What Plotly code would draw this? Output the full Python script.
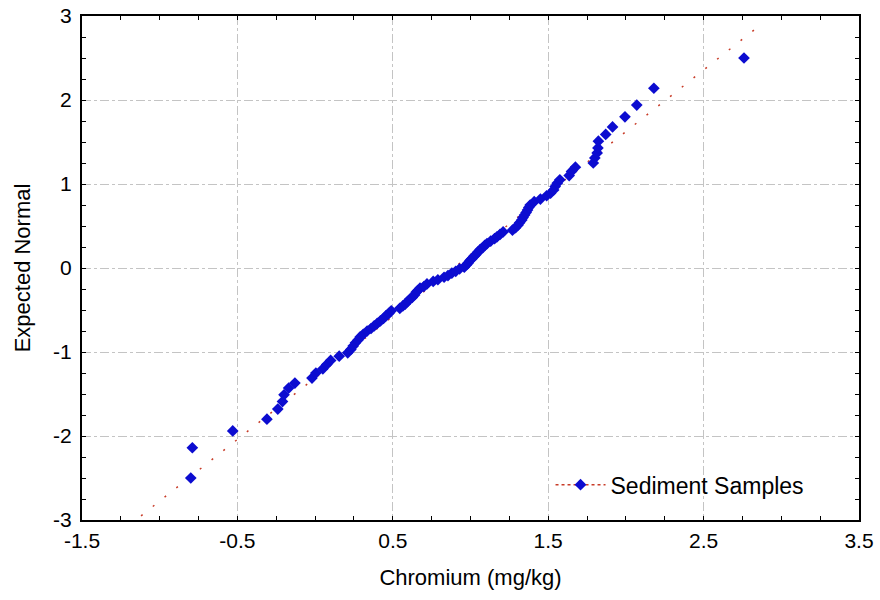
import plotly.graph_objects as go

# Chromium (mg/kg) sample values, sorted
chromium = [
    -0.80, -0.79, -0.53, -0.31, -0.24, -0.21, -0.20, -0.17, -0.13, -0.02,
    0.005, 0.05, 0.075, 0.10, 0.155, 0.21, 0.23, 0.245, 0.26, 0.275,
    0.29, 0.31, 0.335, 0.36, 0.38, 0.40, 0.42, 0.44, 0.455, 0.475,
    0.49, 0.545, 0.565, 0.58, 0.595, 0.61, 0.625, 0.64, 0.65, 0.66,
    0.675, 0.70, 0.72, 0.76, 0.79, 0.83, 0.855, 0.88, 0.905, 0.93,
    0.96, 0.975, 0.985, 0.997, 1.009, 1.022, 1.035, 1.048, 1.062, 1.078,
    1.092, 1.106, 1.13, 1.155, 1.17, 1.19, 1.21, 1.27, 1.29, 1.305,
    1.316, 1.33, 1.338, 1.348, 1.358, 1.367, 1.375, 1.384, 1.41, 1.45,
    1.49, 1.515, 1.535, 1.545, 1.558, 1.575, 1.635, 1.65, 1.675, 1.79,
    1.80, 1.815, 1.82, 1.823, 1.87, 1.914, 1.994, 2.07, 2.18, 2.76,
]

# Expected normal values
expected_normal = [
    -2.50, -2.14, -1.94, -1.80, -1.68, -1.59, -1.51, -1.43, -1.37, -1.31,
    -1.25, -1.20, -1.15, -1.10, -1.05, -1.01, -0.97, -0.93, -0.89, -0.86,
    -0.82, -0.79, -0.75, -0.72, -0.69, -0.66, -0.63, -0.60, -0.57, -0.54,
    -0.51, -0.48, -0.45, -0.43, -0.40, -0.37, -0.35, -0.32, -0.29, -0.27,
    -0.24, -0.22, -0.19, -0.16, -0.14, -0.11, -0.09, -0.06, -0.04, -0.01,
    0.01, 0.04, 0.06, 0.09, 0.11, 0.14, 0.16, 0.19, 0.22, 0.24,
    0.27, 0.29, 0.32, 0.35, 0.37, 0.40, 0.43, 0.45, 0.48, 0.51,
    0.54, 0.57, 0.60, 0.63, 0.66, 0.69, 0.72, 0.75, 0.79, 0.82,
    0.86, 0.89, 0.93, 0.97, 1.01, 1.05, 1.10, 1.15, 1.20, 1.25,
    1.31, 1.37, 1.43, 1.51, 1.59, 1.68, 1.80, 1.94, 2.14, 2.50,
]

# Reference (normal) line end points
ref_x = [-1.12, 2.87]
ref_y = [-2.95, 2.90]

x_tickvals = [-1.5, -0.5, 0.5, 1.5, 2.5, 3.5]
x_ticktext = ["-1.5", "-0.5", "0.5", "1.5", "2.5", "3.5"]
y_tickvals = [-3, -2, -1, 0, 1, 2, 3]
y_ticktext = ["-3", "-2", "-1", "0", "1", "2", "3"]

series_name = "Sediment Samples"
x_title = "Chromium (mg/kg)"
y_title = "Expected Normal"

BLUE = "#0c0cd0"
RED = "#c83c28"
FONT = "Arial, Liberation Sans, sans-serif"

fig = go.Figure()
fig.add_trace(go.Scatter(
    x=ref_x, y=ref_y, mode="lines",
    line=dict(color=RED, width=1.5, dash="2px,13px"),
    showlegend=False, hoverinfo="skip",
))
fig.add_trace(go.Scatter(
    x=chromium, y=expected_normal, mode="markers",
    marker=dict(symbol="diamond", size=9, color=BLUE, line=dict(width=0)),
    showlegend=False, name=series_name,
))
# legend entry (line + marker)
fig.add_trace(go.Scatter(
    x=[None], y=[None], mode="lines+markers", name=series_name,
    line=dict(color=RED, width=1.5, dash="3px,3px"),
    marker=dict(symbol="diamond", size=9, color=BLUE),
))

axis_common = dict(
    showline=True, linecolor="black", linewidth=2, mirror="allticks",
    ticks="inside", ticklen=4, tickcolor="black", tickwidth=1,
    showgrid=True, gridcolor="#c4c4c4", gridwidth=1, griddash="dashdot",
    zeroline=False, tickmode="array", automargin=False,
    tickfont=dict(family=FONT, size=21, color="black"),
)

fig.update_xaxes(
    range=[-1.5, 3.5], tickvals=x_tickvals, ticktext=x_ticktext,
    minor=dict(tick0=-1.5, dtick=0.25, ticks="inside", ticklen=4,
               tickcolor="black", showgrid=False),
    ticklabelstandoff=1,
    title=dict(text=x_title, font=dict(family=FONT, size=22, color="black"), standoff=18),
    **axis_common,
)
fig.update_yaxes(
    range=[-3, 3], tickvals=y_tickvals, ticktext=y_ticktext,
    minor=dict(tick0=-3, dtick=0.25, ticks="inside", ticklen=4,
               tickcolor="black", showgrid=False),
    ticklabelstandoff=4,
    title=dict(text=y_title, font=dict(family=FONT, size=22, color="black"), standoff=16),
    **axis_common,
)

fig.update_layout(
    width=880, height=600,
    margin=dict(l=82, r=21, t=16, b=80),
    paper_bgcolor="white", plot_bgcolor="white",
    font=dict(family=FONT, size=22, color="black"),
    legend=dict(x=0.603, y=0.07, xanchor="left", yanchor="middle",
                itemwidth=50,
                bgcolor="rgba(0,0,0,0)", borderwidth=0,
                font=dict(family=FONT, size=23, color="black")),
)

fig.write_html("out.html")
